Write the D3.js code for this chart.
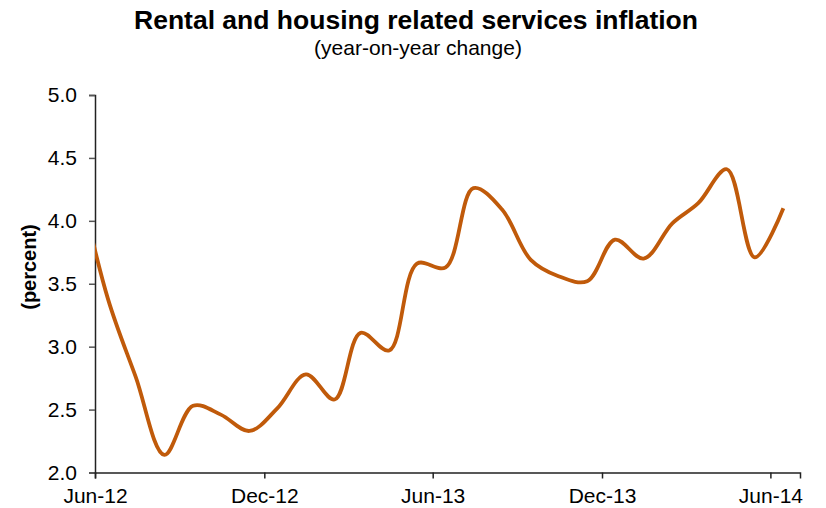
<!DOCTYPE html>
<html>
<head>
<meta charset="utf-8">
<script src="https://cdn.jsdelivr.net/npm/d3@7"></script>
<style>
  html, body { margin: 0; padding: 0; background: #fff; }
  svg { display: block; font-family: "Liberation Sans", Arial, sans-serif; }
</style>
</head>
<body>
<svg id="chart" width="826" height="508"></svg>
<script>
// Monthly observations, dated mid-month (YYYY-MM)
const months = [
  "2012-05", "2012-06", "2012-07", "2012-08", "2012-09", "2012-10", "2012-11", "2012-12",
  "2013-01", "2013-02", "2013-03", "2013-04", "2013-05", "2013-06", "2013-07", "2013-08",
  "2013-09", "2013-10", "2013-11", "2013-12", "2014-01", "2014-02", "2014-03", "2014-04",
  "2014-05", "2014-06"
];
const inflation = [
  4.30, 3.38, 2.76, 2.14, 2.53, 2.46, 2.33, 2.51,
  2.78, 2.58, 3.11, 2.97, 3.66, 3.63, 4.26, 4.09,
  3.69, 3.56, 3.52, 3.85, 3.70, 3.98, 4.14, 4.41,
  3.71, 4.10
];
const yTicks = [2.0, 2.5, 3.0, 3.5, 4.0, 4.5, 5.0];
const xTickDates = ["2012-06-01", "2012-12-01", "2013-06-01", "2013-12-01", "2014-06-01"];

const parseMonth = d3.timeParse("%Y-%m");
const parseDay = d3.timeParse("%Y-%m-%d");
const data = months.map((m, i) => ({ date: d3.timeDay.offset(parseMonth(m), 14), value: inflation[i] }));

const margin = { top: 95, right: 26, bottom: 35, left: 95 };
const width = 826, height = 508;
const svg = d3.select("#chart");

const x = d3.scaleTime()
  .domain([parseDay("2012-06-01"), parseDay("2014-07-03")])
  .range([margin.left, width - margin.right]);
const y = d3.scaleLinear()
  .domain([2.0, 5.0])
  .range([height - margin.bottom - 0.5, margin.top]);

// Titles
svg.append("text")
  .attr("x", 416).attr("y", 29)
  .attr("text-anchor", "middle")
  .style("font-size", "26.5px").style("font-weight", "bold")
  .text("Rental and housing related services inflation");
svg.append("text")
  .attr("x", 418).attr("y", 55)
  .attr("text-anchor", "middle")
  .style("font-size", "21px")
  .text("(year-on-year change)");

// Y axis
const yAxis = svg.append("g")
  .attr("transform", `translate(${margin.left},0)`)
  .call(d3.axisLeft(y).tickValues(yTicks).tickFormat(d3.format(".1f")).tickSizeOuter(0).tickSize(6).tickPadding(12));
yAxis.select(".domain").attr("stroke", "#222").attr("stroke-width", 1.5);
yAxis.selectAll(".tick line").attr("stroke", "#555").attr("stroke-width", 1.5);
yAxis.selectAll(".tick text").style("font-size", "21px").attr("fill", "#000")
  .attr("font-family", "Liberation Sans, Arial, sans-serif");

// X axis
const xAxis = svg.append("g")
  .attr("transform", `translate(0,${y(2.0)})`)
  .call(d3.axisBottom(x).tickValues(xTickDates.map(parseDay)).tickFormat(d3.timeFormat("%b-%y")).tickSizeOuter(0).tickSize(6).tickPadding(10));
xAxis.select(".domain").attr("stroke", "#222").attr("stroke-width", 1.5);
xAxis.selectAll(".tick line").attr("stroke", "#222").attr("stroke-width", 1.5);
xAxis.selectAll(".tick text").style("font-size", "21px").attr("fill", "#000")
  .attr("font-family", "Liberation Sans, Arial, sans-serif");

// Y axis label
svg.append("text")
  .attr("transform", "translate(36,267) rotate(-90)")
  .attr("text-anchor", "middle")
  .style("font-size", "20px").style("font-weight", "bold")
  .text("(percent)");

// Plot area clip so the series starts at the axis
svg.append("clipPath").attr("id", "plot-clip")
  .append("rect")
  .attr("x", margin.left).attr("y", 0)
  .attr("width", width - margin.right - margin.left).attr("height", height);

const line = d3.line()
  .x(d => x(d.date))
  .y(d => y(d.value))
  .curve(d3.curveCatmullRom.alpha(0.5));

svg.append("path")
  .datum(data)
  .attr("clip-path", "url(#plot-clip)")
  .attr("fill", "none")
  .attr("stroke", "#c05a0a")
  .attr("stroke-width", 3.8)
  .attr("stroke-linejoin", "round")
  .attr("d", line);
</script>
</body>
</html>
